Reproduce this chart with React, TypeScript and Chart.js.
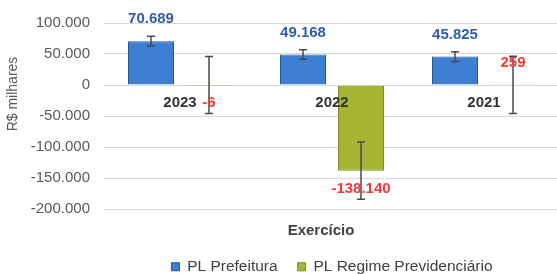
import React, { useEffect, useRef } from "react";
import { Chart, registerables } from "chart.js";

Chart.register(...registerables);

const categories = ["2023", "2022", "2021"];
const seriesNames = ["PL Prefeitura", "PL Regime Previdenciário"];
const plPrefeitura = [70689, 49168, 45825];
const plRegime = [-6, -138140, 259];
const errPrefeitura = [7800, 7800, 7800];
const errRegime = [46100, 46100, 46100];
const yMin = -200000;
const yMax = 100000;
const yStep = 50000;
const xTitle = "Exercício";
const yTitle = "R$ milhares";

const FONT = "'Liberation Sans', Arial, sans-serif";

function fmt(v: number): string {
  const s = Math.abs(Math.round(v))
    .toString()
    .replace(/\B(?=(\d{3})+(?!\d))/g, ".");
  return (v < 0 ? "-" : "") + s;
}

const errs = [errPrefeitura, errRegime];
const labelColors = ["#2f5ea6", "#f23c3c"];

const overlay = {
  id: "overlay",
  afterDatasetsDraw(chart: any) {
    const ctx: CanvasRenderingContext2D = chart.ctx;
    const ys = chart.scales.y;
    const xs = chart.scales.x;
    const area = chart.chartArea;
    // error bars
    chart.data.datasets.forEach((ds: any, di: number) => {
      const meta = chart.getDatasetMeta(di);
      meta.data.forEach((bar: any, i: number) => {
        const v = ds.data[i];
        const e = errs[di][i];
        const yt = ys.getPixelForValue(v + e);
        const yb = ys.getPixelForValue(v - e);
        ctx.save();
        ctx.strokeStyle = "#4a4a4a";
        ctx.lineWidth = 1.5;
        ctx.beginPath();
        ctx.moveTo(bar.x, yt);
        ctx.lineTo(bar.x, yb);
        ctx.moveTo(bar.x - 4, yt);
        ctx.lineTo(bar.x + 4, yt);
        ctx.moveTo(bar.x - 4, yb);
        ctx.lineTo(bar.x + 4, yb);
        ctx.stroke();
        ctx.restore();
      });
    });
    // category labels at zero line
    const y0 = ys.getPixelForValue(0);
    ctx.save();
    ctx.font = `bold 15px ${FONT}`;
    ctx.fillStyle = "#333333";
    ctx.textAlign = "center";
    ctx.textBaseline = "middle";
    categories.forEach((c, i) => {
      ctx.fillText(c, xs.getPixelForValue(i), y0 + 18);
    });
    ctx.restore();
    // value labels
    chart.data.datasets.forEach((ds: any, di: number) => {
      const meta = chart.getDatasetMeta(di);
      meta.data.forEach((bar: any, i: number) => {
        const v = ds.data[i];
        ctx.save();
        ctx.font = `bold 15px ${FONT}`;
        ctx.fillStyle = labelColors[di];
        ctx.textAlign = "center";
        ctx.textBaseline = "middle";
        const ly = v >= 0 ? bar.y - 22 : bar.y + 18;
        ctx.fillText(fmt(v), bar.x, ly);
        ctx.restore();
      });
    });
    // axis titles
    ctx.save();
    ctx.font = `bold 15px ${FONT}`;
    ctx.fillStyle = "#404040";
    ctx.textAlign = "center";
    ctx.textBaseline = "middle";
    ctx.fillText(xTitle, (area.left + area.right) / 2 - 11, area.bottom + 22);
    ctx.restore();
    ctx.save();
    ctx.font = `14px ${FONT}`;
    ctx.fillStyle = "#595959";
    ctx.textAlign = "center";
    ctx.textBaseline = "middle";
    ctx.translate(13, (area.top + area.bottom) / 2 - 22);
    ctx.rotate(-Math.PI / 2);
    ctx.fillText(yTitle, 0, 0);
    ctx.restore();
  },
};

export default function App() {
  const ref = useRef<HTMLCanvasElement | null>(null);
  useEffect(() => {
    if (!ref.current) return;
    const chart = new Chart(ref.current, {
      type: "bar",
      data: {
        labels: categories,
        datasets: [
          {
            label: seriesNames[0],
            data: plPrefeitura,
            backgroundColor: "#3d7fd3",
            borderColor: "#24558f",
            borderWidth: 1,
            categoryPercentage: 0.763,
            barPercentage: 0.793,
          },
          {
            label: seriesNames[1],
            data: plRegime,
            backgroundColor: "#a5b634",
            borderColor: "#7a8a20",
            borderWidth: 1,
            categoryPercentage: 0.763,
            barPercentage: 0.793,
          },
        ],
      },
      options: {
        responsive: false,
        animation: false,
        devicePixelRatio: 1,
        layout: { padding: { top: 21, right: 2, bottom: 5.5, left: 0 } },
        plugins: {
          legend: {
            display: true,
            position: "bottom",
            fullSize: false,
            labels: {
              boxWidth: 8,
              boxHeight: 8,
              padding: 20,
              color: "#404040",
              font: { family: FONT, size: 15.5 },
            },
          },
          tooltip: { enabled: false },
          title: { display: false },
        },
        scales: {
          x: {
            grid: { display: false },
            border: { display: false },
            ticks: { display: false },
            afterFit: (s: any) => {
              s.height = 30;
            },
          },
          y: {
            min: yMin,
            max: yMax,
            ticks: {
              stepSize: yStep,
              padding: 14,
              color: "#595959",
              font: { family: FONT, size: 15 },
              callback: (v: any) => fmt(Number(v)),
            },
            grid: { color: "#d9d9d9", lineWidth: 1, drawTicks: false },
            border: { display: false },
            afterFit: (s: any) => {
              s.width = 104;
            },
          },
        },
      },
      plugins: [overlay],
    } as any);
    return () => chart.destroy();
  }, []);
  return (
    <div
      style={{
        position: "fixed",
        left: 0,
        top: 0,
        width: 557,
        height: 274,
        overflow: "hidden",
        background: "#ffffff",
      }}
    >
      <canvas ref={ref} width={562} height={290} style={{ display: "block" }} />
    </div>
  );
}
